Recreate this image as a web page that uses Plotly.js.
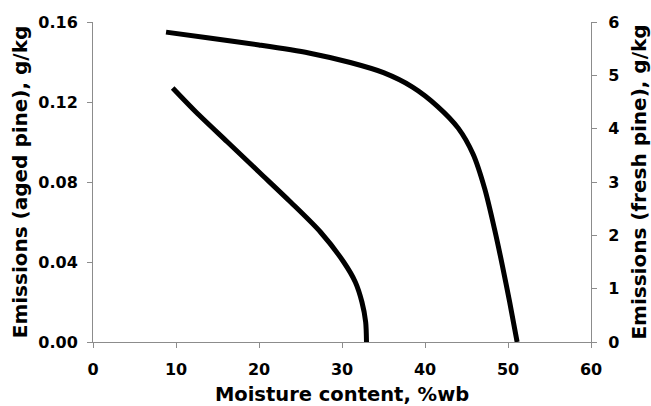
<!DOCTYPE html>
<html>
<head>
<meta charset="utf-8">
<script src="https://cdn.plot.ly/plotly-3.0.1.min.js"></script>
<style>html,body{margin:0;padding:0;background:#fff;}#chart{width:651px;height:406px;}</style>
</head>
<body>
<div id="chart"></div>
<script>
// Aged pine (left axis, g/kg)
var agedMoisture = [9.6, 12.4, 16.2, 20.0, 23.8, 27.4, 30.2, 31.6, 32.4, 32.85, 32.95];
var agedEmissions = [0.127, 0.115, 0.100, 0.085, 0.070, 0.055, 0.040, 0.030, 0.020, 0.010, 0.000];
// Fresh pine (right axis, g/kg)
var freshMoisture = [8.8, 14.0, 20.0, 26.0, 31.0, 35.0, 38.5, 41.5, 44.0, 45.8, 47.2, 48.4, 49.3, 50.2, 51.1];
var freshEmissions = [5.81, 5.70, 5.57, 5.42, 5.24, 5.05, 4.78, 4.42, 4.01, 3.52, 2.87, 2.10, 1.45, 0.75, 0.0];

var xTicks = [0, 10, 20, 30, 40, 50, 60];
var leftTicks = [0.00, 0.04, 0.08, 0.12, 0.16];
var rightTicks = [0, 1, 2, 3, 4, 5, 6];

var FONT = 'DejaVu Sans, Arial, sans-serif';
var axisGray = '#8c8c8c';

var traces = [
  {x: agedMoisture, y: agedEmissions, type: 'scatter', mode: 'lines', yaxis: 'y',
   line: {color: '#000', width: 5, shape: 'spline', smoothing: 0.8}, showlegend: false, hoverinfo: 'skip'},
  {x: freshMoisture, y: freshEmissions, type: 'scatter', mode: 'lines', yaxis: 'y2',
   line: {color: '#000', width: 5, shape: 'spline', smoothing: 0.8}, showlegend: false, hoverinfo: 'skip'}
];

var tickFont = {family: FONT, size: 16, color: '#000', weight: 'bold'};
var titleFont = {family: FONT, size: 20, color: '#000', weight: 'bold'};

var layout = {
  width: 651, height: 406,
  margin: {l: 93, r: 60, t: 22, b: 64, pad: 0},
  paper_bgcolor: '#fff', plot_bgcolor: '#fff',
  showlegend: false,
  xaxis: {
    range: [0, 60], tickvals: xTicks, ticktext: xTicks.map(String),
    showgrid: false, zeroline: false, showline: true, linecolor: axisGray, linewidth: 1,
    ticks: 'outside', ticklen: 5, tickcolor: axisGray, tickfont: tickFont, ticklabelstandoff: 8,
    title: {text: 'Moisture content, %wb', font: {family: FONT, size: 19.5, color: '#000', weight: 'bold'}, standoff: 12},
    fixedrange: true
  },
  yaxis: {
    range: [0, 0.16], tickvals: leftTicks, ticktext: leftTicks.map(function(v){return v.toFixed(2);}),
    showgrid: false, zeroline: false, showline: true, linecolor: axisGray, linewidth: 1,
    ticks: 'outside', ticklen: 5, tickcolor: axisGray, tickfont: tickFont, ticklabelstandoff: 6,
    title: {text: 'Emissions (aged pine), g/kg', font: titleFont, standoff: 5},
    fixedrange: true
  },
  yaxis2: {
    range: [0, 6], tickvals: rightTicks, ticktext: rightTicks.map(String),
    overlaying: 'y', side: 'right', anchor: 'x',
    showgrid: false, zeroline: false, showline: true, linecolor: axisGray, linewidth: 1,
    ticks: 'outside', ticklen: 5, tickcolor: axisGray, tickfont: tickFont, ticklabelstandoff: 8,
    title: {text: 'Emissions (fresh pine), g/kg', font: titleFont, standoff: 13},
    fixedrange: true
  }
};

Plotly.newPlot('chart', traces, layout, {displayModeBar: false, staticPlot: true});
</script>
</body>
</html>
